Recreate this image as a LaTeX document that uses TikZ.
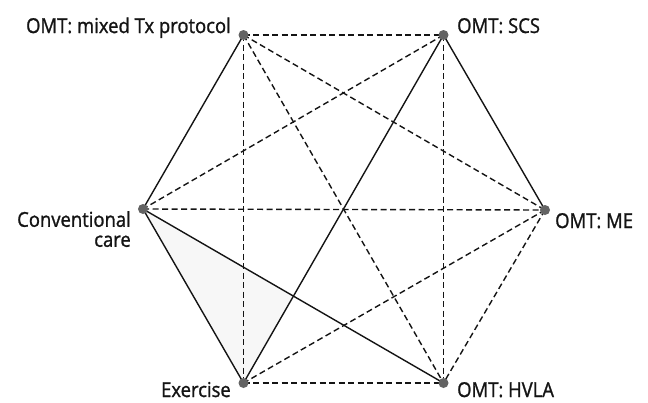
\documentclass[tikz,border=0pt]{standalone}
\usepackage{fontspec}
\setmainfont{Open Sans}
\newfontfamily\labfont{Open Sans}[FakeBold=1.2,FakeStretch=0.9]
\usetikzlibrary{calc,backgrounds}
\definecolor{dotgray}{HTML}{636363}
\definecolor{ink}{HTML}{141414}
\begin{document}
\begin{tikzpicture}[x=1pt,y=-1pt,
  dotnode/.style={circle,fill=dotgray,inner sep=0pt,minimum size=10pt},
  lab/.style={inner sep=0pt,text=ink,font=\labfont\fontsize{20.5}{22}\selectfont},
  solidedge/.style={draw=ink,line width=1.4pt},
  dashededge/.style={draw=ink,line width=1.4pt,dash pattern=on 6pt off 3.5pt}]
\useasboundingbox (0,0) rectangle (648,402);
\node[dotnode] (M) at (243.5,35) {};
\node[dotnode] (S) at (443.5,35) {};
\node[dotnode] (E) at (545,210) {};
\node[dotnode] (H) at (443.5,383) {};
\node[dotnode] (X) at (243.5,383) {};
\node[dotnode] (C) at (143,209) {};
\begin{scope}[on background layer]
\fill[black!3] (C.center) -- (X.center) -- ($(C)!0.5!(H)$) -- cycle;
\draw[solidedge] (M.center) -- (C.center);
\draw[solidedge] (S.center) -- (E.center);
\draw[solidedge] (S.center) -- (X.center);
\draw[solidedge] (C.center) -- (X.center);
\draw[solidedge] (C.center) -- (H.center);
\draw[dashededge] (M.center) -- (S.center);
\draw[dashededge] (M.center) -- (X.center);
\draw[dashededge] (M.center) -- (H.center);
\draw[dashededge] (M.center) -- (E.center);
\draw[dashededge] (S.center) -- (C.center);
\draw[dashededge] (S.center) -- (H.center);
\draw[dashededge] (C.center) -- (E.center);
\draw[dashededge] (E.center) -- (X.center);
\draw[dashededge] (E.center) -- (H.center);
\draw[dashededge] (X.center) -- (H.center);
\end{scope}
\node[lab,anchor=base east] (lM) at (231,33) {OMT: mixed Tx protocol};
\node[lab,anchor=base west] (lS) at (457,33) {OMT: SCS};
\node[lab,anchor=base west] (lE) at (555,228) {OMT: ME};
\node[lab,anchor=base east] (lX) at (231,397) {Exercise};
\node[lab,anchor=base west] (lH) at (457,397) {OMT: HVLA};
\node[lab,anchor=north east,align=right,font=\labfont\fontsize{20.5}{20}\selectfont] (lC) at (131,211) {Conventional\\care};
\end{tikzpicture}
\end{document}
